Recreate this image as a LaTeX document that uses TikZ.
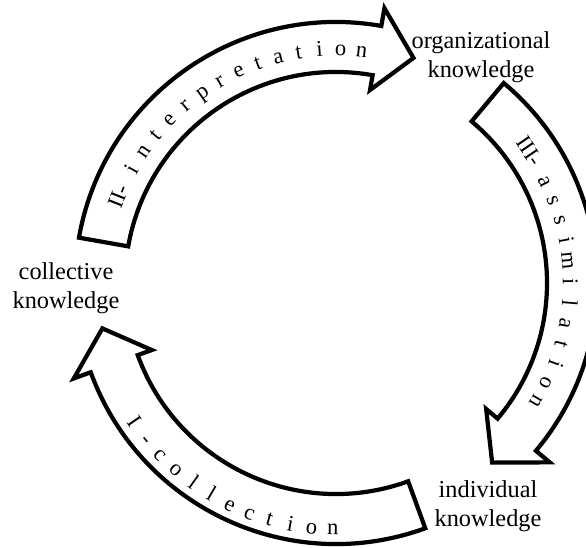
\documentclass[tikz,border=0pt]{standalone}
\usepackage{fontspec}
\setmainfont{Liberation Serif}
\usetikzlibrary{calc}

\tikzset{
	cycarrow/.style={draw=black, fill=white, line width=3pt, line join=miter},
	arrowchar/.style={font=\fontsize{16}{18}\selectfont, inner sep=0pt, anchor=base},
	stage/.style={font=\fontsize{17.3}{20.6}\selectfont, align=center, inner sep=0pt}
}

\begin{document}
\begin{tikzpicture}[x=0.025cm, y=0.025cm]
	\useasboundingbox (0,0) rectangle (586,547);
	\clip (0,0) rectangle (586,547);

	\coordinate (c) at (336,264);

	\begin{scope}[shift={(c)}]
		\draw[cycarrow] (170:261) arc[start angle=170, end angle=80, radius=261] -- (80:279) -- (71:238) -- (80:196) -- (80:211) arc[start angle=80, end angle=170, radius=211] -- cycle;
		\draw[cycarrow] (50:261) arc[start angle=50, end angle=-40, radius=261] -- (-40:279) -- (-49:238) -- (-40:196) -- (-40:211) arc[start angle=-40, end angle=50, radius=211] -- cycle;
		\draw[cycarrow] (-70:261) arc[start angle=-70, end angle=-160, radius=261] -- (-160:279) -- (-169:238) -- (-160:196) -- (-160:211) arc[start angle=-160, end angle=-70, radius=211] -- cycle;

		\node[arrowchar, rotate=68.3] (interp0) at (158.3:227) {II-};
		\foreach \ch [count=\i] in {i,n,t,e,r,p,r,e,t,a,t,i,o,n}{
			\pgfmathsetmacro\ang{150.9-5.17*(\i-1)}
			\node[arrowchar, rotate=\ang-90] (interp\i) at (\ang:227) {\ch};
		}
		\node[arrowchar, rotate=-55.7] (assim0) at (34.3:227) {III-};
		\foreach \ch [count=\i] in {a,s,s,i,m,i,l,a,t,i,o,n}{
			\pgfmathsetmacro\ang{26-5.14*(\i-1)}
			\node[arrowchar, rotate=\ang-90] (assim\i) at (\ang:227) {\ch};
		}
		\foreach \ch [count=\i from 0] in {I,-,c,o,l,l,e,c,t,i,o,n}{
			\pgfmathsetmacro\ang{214.5+4.98*\i}
			\node[arrowchar, rotate=\ang+90] (collect\i) at (\ang:252) {\ch};
		}
	\end{scope}

	\node[stage] (coll) at (66,259) {collective\\knowledge};
	\node[stage] (org) at (481,490) {organizational\\knowledge};
	\node[stage] (ind) at (488,41) {individual\\knowledge};
\end{tikzpicture}
\end{document}
